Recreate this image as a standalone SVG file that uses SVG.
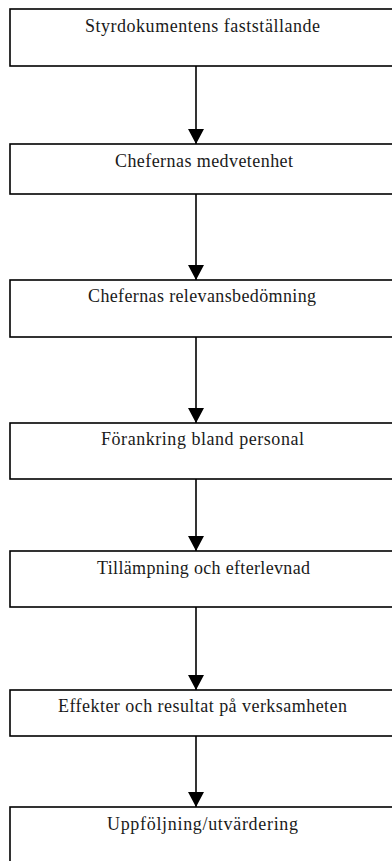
<svg xmlns="http://www.w3.org/2000/svg" width="392" height="861" viewBox="0 0 392 861">
<style>
.box{fill:#fff;stroke:#000;stroke-width:1.6}
.lbl{font-family:"Liberation Serif","Times New Roman",serif;font-size:18px;fill:#1a1a1a;text-anchor:middle}
.con{stroke:#000;stroke-width:1.6;fill:none}
</style>
<defs>
<marker id="ah" markerUnits="userSpaceOnUse" markerWidth="16" markerHeight="16" viewBox="0 0 16 16" refX="15" refY="8" orient="auto">
<path d="M0,0 L15,8 L0,16 Z" fill="#000"/>
</marker>
</defs>
<rect width="392" height="861" fill="#fff"/>
<g id="connectors">
<line class="con" x1="196" y1="66" x2="196" y2="144" marker-end="url(#ah)"/>
<line class="con" x1="196" y1="194" x2="196" y2="280" marker-end="url(#ah)"/>
<line class="con" x1="196" y1="337" x2="196" y2="423" marker-end="url(#ah)"/>
<line class="con" x1="196" y1="479" x2="196" y2="551" marker-end="url(#ah)"/>
<line class="con" x1="196" y1="607" x2="196" y2="690" marker-end="url(#ah)"/>
<line class="con" x1="196" y1="736" x2="196" y2="807" marker-end="url(#ah)"/>
</g>
<g id="n1"><rect class="box" x="10" y="9" width="400" height="57"/><text class="lbl" x="202.5" y="32" textLength="235" lengthAdjust="spacing">Styrdokumentens fastställande</text></g>
<g id="n2"><rect class="box" x="10" y="144" width="400" height="50"/><text class="lbl" x="204" y="167" textLength="178" lengthAdjust="spacing">Chefernas medvetenhet</text></g>
<g id="n3"><rect class="box" x="10" y="280" width="400" height="57"/><text class="lbl" x="202" y="302" textLength="228" lengthAdjust="spacing">Chefernas relevansbedömning</text></g>
<g id="n4"><rect class="box" x="10" y="423" width="400" height="56"/><text class="lbl" x="202.5" y="445" textLength="203" lengthAdjust="spacing">Förankring bland personal</text></g>
<g id="n5"><rect class="box" x="10" y="551" width="400" height="56"/><text class="lbl" x="203.5" y="574" textLength="213" lengthAdjust="spacing">Tillämpning och efterlevnad</text></g>
<g id="n6"><rect class="box" x="10" y="690" width="400" height="46"/><text class="lbl" x="202.5" y="712" textLength="289" lengthAdjust="spacing">Effekter och resultat på verksamheten</text></g>
<g id="n7"><rect class="box" x="10" y="807" width="400" height="80"/><text class="lbl" x="202.5" y="830" textLength="191" lengthAdjust="spacing">Uppföljning/utvärdering</text></g>
</svg>
